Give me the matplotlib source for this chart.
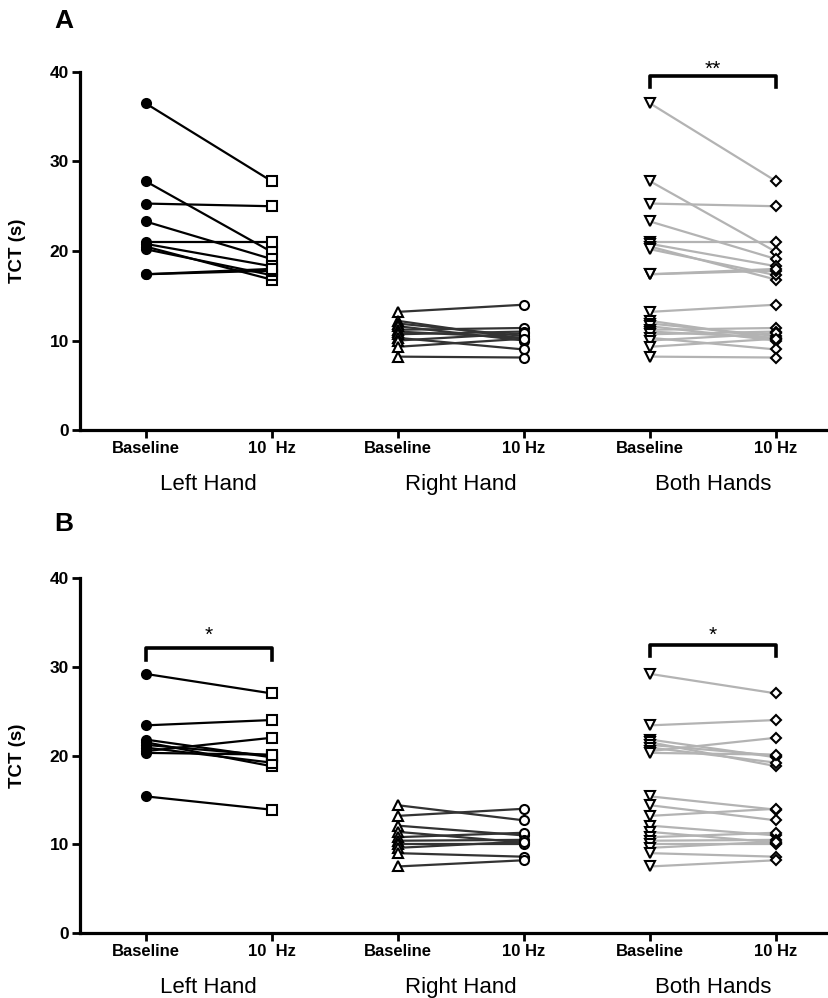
import matplotlib
matplotlib.use('Agg')
import matplotlib.pyplot as plt

plt.rcParams['font.family'] = ['Liberation Sans', 'DejaVu Sans']

# x-axis categories
TICK_LABELS_A = ['Baseline', '10  Hz', 'Baseline', '10 Hz', 'Baseline', '10 Hz']
TICK_LABELS_B = ['Baseline', '10  Hz', 'Baseline', '10 Hz', 'Baseline', '10 Hz']
GROUPS = ['Left Hand', 'Right Hand', 'Both Hands']

# Panel A - TCT (s) per subject
left_base_a  = [36.5, 27.8, 25.3, 23.3, 21.0, 20.8, 20.5, 20.2, 17.4, 17.4]
left_10hz_a  = [27.8, 19.9, 25.0, 19.1, 21.0, 18.3, 16.8, 17.3, 17.8, 18.0]
right_base_a = [13.2, 12.2, 11.9, 11.6, 11.2, 11.0, 10.7, 10.3, 10.0, 9.3, 8.2]
right_10hz_a = [14.0, 10.2, 10.5, 10.0, 11.4, 10.3, 11.0, 9.0, 10.8, 10.2, 8.1]

# Panel B - TCT (s) per subject
left_base_b  = [29.2, 23.4, 21.8, 21.5, 21.2, 20.9, 20.5, 20.3, 15.4]
left_10hz_b  = [27.0, 24.0, 19.8, 18.8, 20.0, 19.2, 22.0, 20.1, 13.9]
right_base_b = [14.4, 13.2, 12.1, 11.4, 10.8, 10.4, 10.0, 9.6, 9.0, 7.5]
right_10hz_b = [12.7, 14.0, 11.0, 10.2, 11.3, 10.5, 10.0, 10.3, 8.6, 8.2]

# significance brackets: (group index, y of bar, y of star baseline, label)
SIG_A = [(2, 39.6, 39.7, '**')]
SIG_B = [(0, 32.1, 32.9, '*'), (2, 32.5, 32.9, '*')]


def draw_pairs(ax, x0, base, post, line_color, m0, m1, fill0, ms1=6.5):
    for b, p in zip(base, post):
        ax.plot([x0, x0 + 1], [b, p], color=line_color, lw=1.6, zorder=2)
    ax.plot([x0] * len(base), base, ls='none', marker=m0, ms=6.5,
            mfc=fill0, mec='black', mew=1.5, zorder=3)
    ax.plot([x0 + 1] * len(post), post, ls='none', marker=m1, ms=ms1,
            mfc='white', mec='black', mew=1.5, zorder=3)


def draw_panel(ax, lb, l10, rb, r10, sigs, ticklabels, letter, letter_y):
    draw_pairs(ax, 0, lb, l10, 'black', 'o', 's', 'black')
    draw_pairs(ax, 2, rb, r10, '#333333', '^', 'o', 'white')
    draw_pairs(ax, 4, lb + rb, l10 + r10, '#b3b3b3', 'v', 'D', 'white', ms1=5.5)

    for g, y, ty, label in sigs:
        x0 = 2 * g
        ax.plot([x0, x0, x0 + 1, x0 + 1], [y - 1.3, y, y, y - 1.3],
                color='black', lw=2.6, clip_on=False, zorder=4)
        ax.text(x0 + 0.5, ty, label, ha='center', va='baseline',
                fontsize=15, clip_on=False)

    ax.set_xlim(-0.52, 5.42)
    ax.set_ylim(0, 40)
    ax.set_yticks([0, 10, 20, 30, 40])
    ax.set_xticks(range(6))
    ax.set_xticklabels(ticklabels, fontweight='bold', fontsize=12)
    for lab in ax.get_yticklabels():
        lab.set_fontweight('bold')
        lab.set_fontsize(12.5)
    ax.set_ylabel('TCT (s)', fontweight='bold', fontsize=13.5)
    ax.yaxis.set_label_coords(-0.072, 0.5)
    for side in ['top', 'right']:
        ax.spines[side].set_visible(False)
    for side in ['left', 'bottom']:
        ax.spines[side].set_linewidth(2.3)
    ax.tick_params(axis='both', width=2, length=6, pad=2)

    for i, name in enumerate(GROUPS):
        ax.text(2 * i + 0.5, -0.153, name, transform=ax.get_xaxis_transform(),
                ha='center', va='center', fontsize=16)
    ax.text(-0.022, letter_y, letter, transform=ax.transAxes, fontsize=19,
            fontweight='bold', ha='center', va='center')


fig = plt.figure(figsize=(8.29, 9.98), dpi=100)
ax_a = fig.add_axes([0.0965, 0.5691, 0.9035, 0.3588])
ax_b = fig.add_axes([0.0965, 0.0651, 0.9035, 0.3557])

draw_panel(ax_a, left_base_a, left_10hz_a, right_base_a, right_10hz_a,
           SIG_A, TICK_LABELS_A, 'A', 1.142)
draw_panel(ax_b, left_base_b, left_10hz_b, right_base_b, right_10hz_b,
           SIG_B, TICK_LABELS_B, 'B', 1.152)

fig.savefig('out.png', dpi=100)
